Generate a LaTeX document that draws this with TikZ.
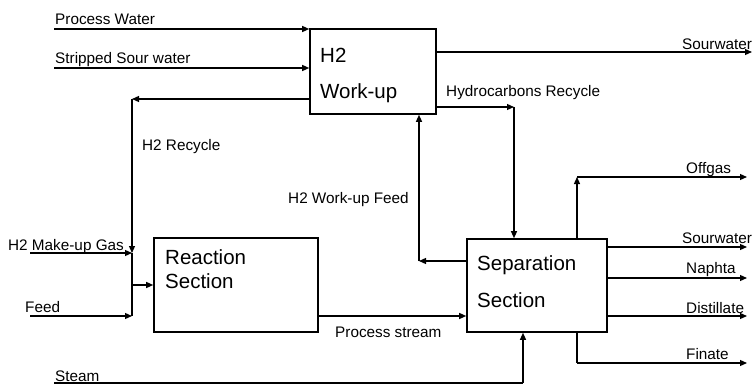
\documentclass[tikz,border=0pt]{standalone}
\usepackage{fontspec}
\setmainfont{Liberation Sans}
\usetikzlibrary{arrows.meta,positioning,calc}

\begin{document}
\begin{tikzpicture}[
    x=1pt, y=-1pt,
    unit/.style={draw, line width=1.6pt, inner sep=0pt},
    unittxt/.style={anchor=base west, inner sep=0pt, font=\fontsize{20.5}{24}\selectfont},
    lbl/.style={anchor=base west, inner sep=0pt, font=\fontsize{15.3}{17}\selectfont},
    flow/.style={line width=1.2pt, -{Triangle[length=7pt,width=6pt]}},
    pipe/.style={line width=1.2pt},
]
\useasboundingbox (0,0) rectangle (755,385);

% process units
\node[unit, minimum width=126pt, minimum height=85pt] (h2) at (373,71.5) {};
\node[unit, minimum width=164pt, minimum height=94pt] (react) at (236,285) {};
\node[unit, minimum width=140pt, minimum height=93pt] (sep) at (537,285.5) {};
\node[unittxt] (h2a) at (320,63) {H2};
\node[unittxt] (h2b) at (320,99) {Work-up};
\node[unittxt] (reacta) at (165,264) {Reaction};
\node[unittxt] (reactb) at (165,288) {Section};
\node[unittxt] (sepa) at (477,270) {Separation};
\node[unittxt] (sepb) at (477,307) {Section};

% stream ends and corners
\coordinate (pwin) at (54,29);
\coordinate (sswin) at (54,68);
\coordinate (mkin) at (30,253);
\coordinate (feedin) at (30,316);
\coordinate (steamin) at (54,383);
\coordinate (rec) at (132,99);
\coordinate (mixin) at (132,253);
\coordinate (mixbot) at (132,316);
\coordinate (wuf) at (419,261);
\coordinate (hcr) at (514,107);
\coordinate (swout) at (752,52);
\coordinate (offc) at (577,177);
\coordinate (offout) at (747,177);
\coordinate (sw2out) at (747,247);
\coordinate (napout) at (747,278);
\coordinate (distout) at (747,316);
\coordinate (finc) at (577,363);
\coordinate (finout) at (747,363);
\coordinate (stc) at (523,383);

% feeds to H2 work-up
\draw[flow] (pwin) -- (pwin -| h2.west);
\draw[flow] (sswin) -- (sswin -| h2.west);
\node[lbl] (pwl) at (55,25) {Process Water};
\node[lbl] (sswl) at (55,64) {Stripped Sour water};

% H2 recycle and reactor feed
\draw[flow] (rec -| h2.west) -- (rec);
\draw[flow] (rec) -- (mixin);
\draw[pipe] (mixin) -- (mixbot);
\draw[flow] (mkin) -- (mixin);
\draw[flow] (feedin) -- (mixbot);
\draw[flow] (mixbot |- react.west) -- (react.west);
\node[lbl] (recl) at (142,150) {H2 Recycle};
\node[lbl] (mkl) at (8,250) {H2 Make-up Gas};
\node[lbl] (feedl) at (25,312) {Feed};

% reactor to separation
\draw[flow] (react.east |- mixbot) -- (sep.west |- mixbot);
\node[lbl] (psl) at (335,337) {Process stream};

% separation <-> H2 work-up
\draw[flow] (sep.west |- wuf) -- (wuf);
\draw[flow] (wuf) -- (wuf |- h2.south);
\draw[flow] (h2.east |- hcr) -- (hcr);
\draw[flow] (hcr) -- (hcr |- sep.north);
\node[lbl] (wufl) at (288,203) {H2 Work-up Feed};
\node[lbl] (hcrl) at (446,97) {Hydrocarbons Recycle};

% products
\draw[flow] (h2.east |- swout) -- (swout);
\draw[flow] (offc |- sep.north) -- (offc);
\draw[flow] (offc) -- (offout);
\draw[flow] (sep.east |- sw2out) -- (sw2out);
\draw[flow] (sep.east |- napout) -- (napout);
\draw[flow] (sep.east |- distout) -- (distout);
\draw[pipe] (finc |- sep.south) -- (finc);
\draw[flow] (finc) -- (finout);
\node[lbl] (swl) at (682,50) {Sourwater};
\node[lbl] (offl) at (686,173) {Offgas};
\node[lbl] (sw2l) at (682,243) {Sourwater};
\node[lbl] (napl) at (686,273) {Naphta};
\node[lbl] (distl) at (686,313) {Distillate};
\node[lbl] (finl) at (686,359) {Finate};

% steam
\draw[pipe] (steamin) -- (stc);
\draw[flow] (stc) -- (stc |- sep.south);
\node[lbl] (stl) at (55,381) {Steam};
\end{tikzpicture}
\end{document}
